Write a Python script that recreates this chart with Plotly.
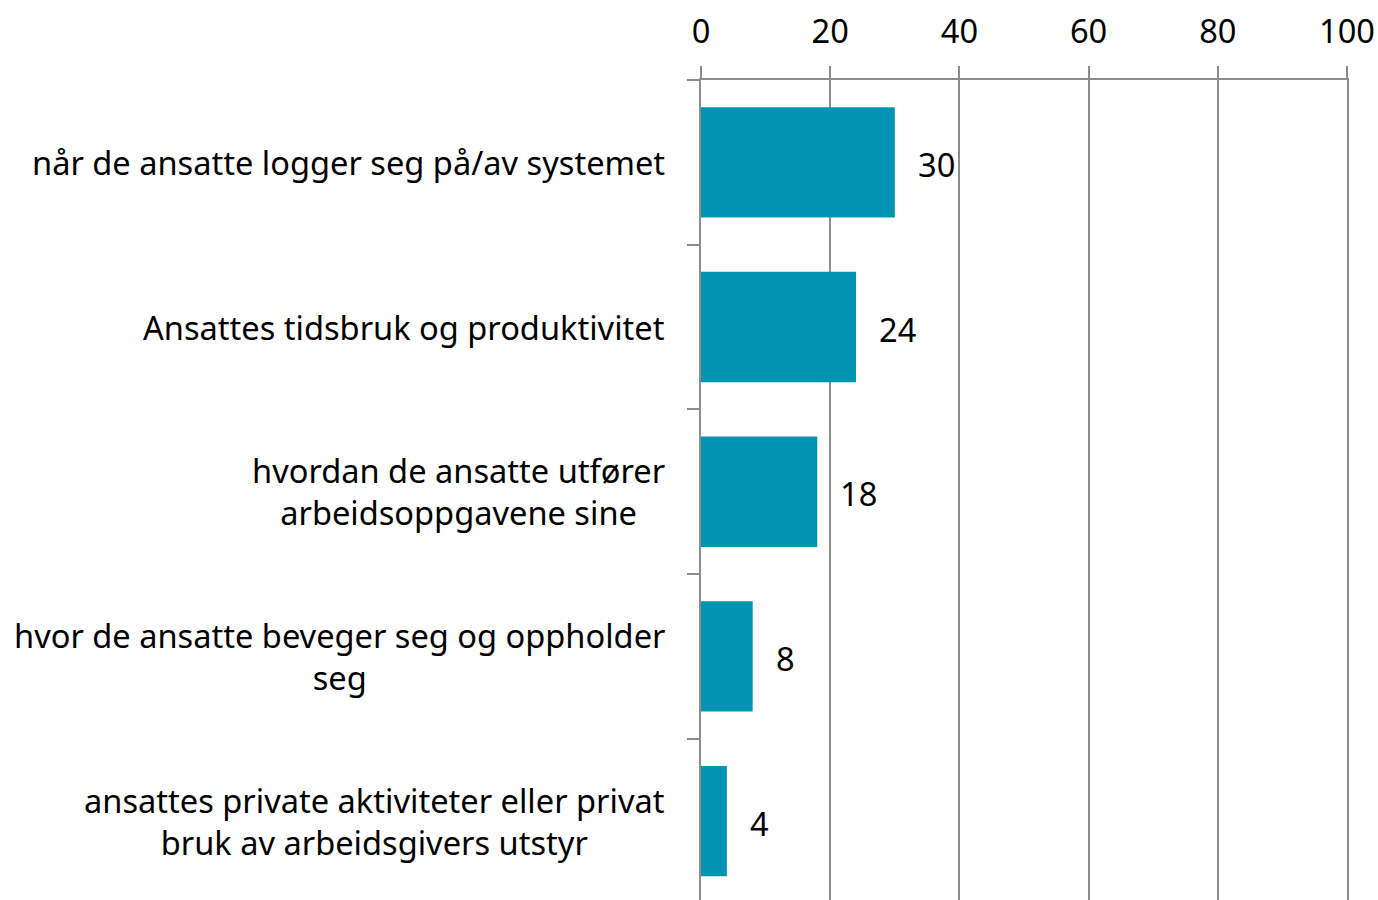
import plotly.graph_objects as go

# Data
categories = [
    "når de ansatte logger seg på/av systemet",
    "Ansattes tidsbruk og produktivitet",
    "hvordan de ansatte utfører<br>arbeidsoppgavene sine",
    "hvor de ansatte beveger seg og oppholder<br>seg",
    "ansattes private aktiviteter eller privat<br>bruk av arbeidsgivers utstyr",
]
values = [30, 24, 18, 8, 4]
x_ticks = [0, 20, 40, 60, 80, 100]

BAR_COLOR = "#0094B3"
LINE_COLOR = "#8C8C8C"
FONT = "Noto Sans"
FONT_SIZE = 32.6

keys = [f"c{i}" for i in range(len(categories))]

fig = go.Figure()
fig.add_trace(go.Bar(
    x=values, y=keys, orientation="h",
    marker=dict(color=BAR_COLOR, line=dict(width=0)),
    hoverinfo="skip",
))

# Category labels (centered lines, right-aligned block)
for k, lab in zip(keys, categories):
    fig.add_annotation(
        x=0, y=k, xref="x", yref="y", text=lab,
        xanchor="right", yanchor="middle", align="center",
        xshift=-34, showarrow=False,
        font=dict(family=FONT, size=FONT_SIZE, color="#000000"),
    )

# Value labels
for k, v in zip(keys, values):
    fig.add_annotation(
        x=v, y=k, xref="x", yref="y", text=str(v),
        xanchor="left", yanchor="middle", xshift=21, yshift=-2,
        showarrow=False,
        font=dict(family=FONT, size=FONT_SIZE, color="#000000"),
    )

fig.update_layout(
    width=1378, height=900,
    paper_bgcolor="white", plot_bgcolor="white",
    margin=dict(l=701, r=31, t=80, b=0, autoexpand=False),
    showlegend=False, bargap=0.33,
    font=dict(family=FONT, size=FONT_SIZE, color="#000000"),
)
fig.update_xaxes(
    range=[0, 100], side="top", tickvals=x_ticks,
    ticklabeloverflow="allow", ticklabelstandoff=10,
    showgrid=True, gridcolor=LINE_COLOR, gridwidth=2,
    showline=True, linecolor=LINE_COLOR, linewidth=2,
    ticks="outside", ticklen=12, tickwidth=2, tickcolor=LINE_COLOR,
    zeroline=False, fixedrange=True,
)
# mirror=True puts the line on the right edge too (stands in for the 100 gridline)
fig.update_yaxes(
    type="category", categoryorder="array", categoryarray=keys,
    range=[4.479, -0.5], showticklabels=False,
    showline=True, mirror=True, linecolor=LINE_COLOR, linewidth=2,
    ticks="outside", tickson="boundaries", ticklen=12, tickwidth=2,
    tickcolor=LINE_COLOR, showgrid=False, zeroline=False,
)

# drop the default 8px body margin so the figure fills the window
fig.write_html("out.html",
               config={"displayModeBar": False},
               post_script="document.body.style.margin='0';"
                           "document.body.style.overflow='hidden';")
